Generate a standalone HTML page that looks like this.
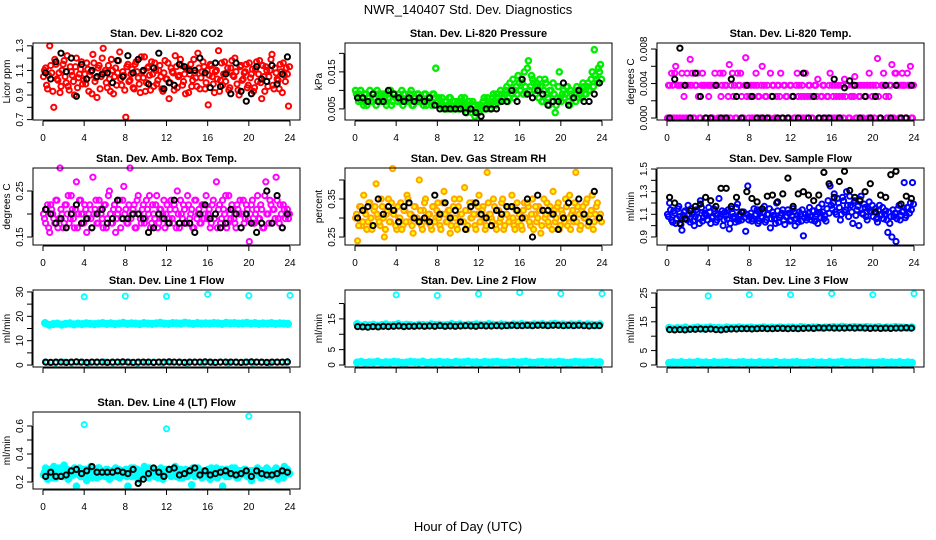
<!DOCTYPE html>
<html><head><meta charset="utf-8"><style>
html,body{margin:0;padding:0;background:#fff;}
svg{display:block;font-family:"Liberation Sans",Arial,sans-serif;}
</style></head><body>
<svg id="chart" width="936" height="540" viewBox="0 0 936 540" xmlns="http://www.w3.org/2000/svg">
<rect x="0" y="0" width="936" height="540" fill="#fff"/>
<text x="468" y="14" text-anchor="middle" font-size="13">NWR_140407  Std. Dev. Diagnostics</text>
<text x="468" y="531" text-anchor="middle" font-size="13">Hour of Day (UTC)</text>
</svg>
<script>
// ---- data ----
const hourTicks = [0,4,8,12,16,20,24];

const co2Red = [1.05,1.12,0.95,1.30,1.08,0.80,1.15,1.02,0.92,1.10,1.18,1.00,0.97,1.13,1.06,0.90,1.20,1.04,1.11,0.99,
1.07,1.16,0.93,1.09,1.23,1.01,0.88,1.14,1.05,1.28,1.10,0.96,1.03,1.19,0.91,1.12,1.08,1.25,0.98,1.06,
0.72,1.15,1.02,1.11,0.95,1.17,1.04,0.92,1.09,1.21,1.00,1.13,0.94,1.07,1.16,0.99,1.10,1.05,0.93,1.18,
1.03,0.87,1.12,1.08,1.22,0.96,1.06,1.14,1.01,0.91,1.11,1.07,0.97,1.19,1.04,1.24,0.95,1.09,1.13,1.00,
0.82,1.15,1.05,0.92,1.10,1.26,1.02,0.98,1.17,1.08,0.94,1.12,1.06,1.20,0.99,0.90,1.14,1.03,1.09,0.96,
1.16,1.07,0.93,1.11,1.01,1.18,0.87,1.05,1.13,0.97,1.10,1.23,0.95,1.08,1.02,1.15,0.92,1.06,1.12,0.81];
const co2RedB = [1.10,0.98,1.06,1.14,0.93,1.19,1.03,1.08,0.97,1.15,1.05,1.22,0.94,1.09,1.01,1.13,0.96,1.07,1.17,1.02,
0.99,1.11,1.06,0.91,1.16,1.04,1.12,0.95,1.20,1.08,1.00,1.14,0.93,1.10,1.05,0.98,1.18,1.03,1.09,0.94,
1.13,1.01,1.07,0.96,1.15,1.09,0.99,1.21,1.04,0.93,1.12,1.06,1.17,0.97,1.10,1.02,1.14,0.95,1.08,1.03,
1.16,1.00,1.09,0.94,1.13,1.05,1.19,0.98,1.07,1.11,0.92,1.15,1.02,1.08,0.97,1.12,1.04,1.17,0.95,1.10,
1.06,1.14,0.99,1.09,1.03,0.93,1.16,1.07,1.01,1.12,0.96,1.18,1.05,1.09,0.94,1.13,1.02,1.08,1.15,0.98,
1.04,1.11,0.96,1.17,1.07,1.00,1.14,0.93,1.10,1.05,1.19,0.98,1.12,1.03,0.95,1.09,1.16,1.01,1.07,1.13];
const co2Black = [1.08,1.03,1.17,1.24,1.09,1.20,0.89,1.15,1.03,1.10,1.05,1.07,1.08,1.00,1.18,1.05,1.22,1.08,1.19,1.10,
0.99,1.12,1.24,0.95,1.00,0.98,1.15,1.13,1.10,1.10,1.20,1.08,0.96,1.16,0.97,1.07,0.91,1.16,0.93,0.85,
0.91,1.13,1.03,1.01,1.14,0.99,1.07,1.21];
const co2Ticks = [0.7,0.8,0.9,1.0,1.1,1.2,1.3];
const co2Labels = ["0.7","","0.9","","1.1","","1.3"];

const presGreen = [.010,.008,.009,.007,.006,.009,.008,.010,.007,.008,.006,.009,.008,.007,.009,.006,.008,.010,.007,.009,
.008,.009,.007,.006,.009,.008,.007,.010,.006,.008,.009,.007,.008,.006,.009,.007,.008,.006,.009,.016,
.007,.006,.008,.005,.007,.006,.008,.005,.007,.006,.005,.007,.006,.008,.004,.006,.005,.007,.003,.005,
.004,.006,.007,.005,.008,.006,.007,.009,.006,.008,.007,.009,.008,.010,.007,.012,.009,.008,.011,.014,
.010,.012,.015,.009,.018,.011,.013,.010,.012,.008,.011,.007,.013,.009,.006,.010,.012,.004,.008,.015,
.007,.010,.009,.011,.006,.009,.008,.007,.010,.009,.008,.011,.009,.012,.010,.015,.021,.013,.016,.017];
const presGreenB = [.009,.007,.010,.008,.009,.006,.008,.007,.009,.008,.010,.007,.009,.008,.007,.009,.008,.006,.009,.008,
.007,.008,.010,.009,.007,.008,.009,.006,.008,.007,.009,.008,.007,.009,.006,.008,.007,.009,.008,.007,
.008,.007,.006,.007,.005,.008,.006,.007,.005,.007,.006,.008,.005,.006,.005,.007,.004,.006,.004,.006,
.006,.005,.008,.006,.007,.005,.008,.007,.009,.007,.010,.008,.009,.011,.008,.010,.013,.010,.009,.012,
.013,.009,.011,.016,.010,.014,.012,.009,.011,.013,.007,.010,.012,.008,.010,.007,.009,.006,.011,.008,
.009,.008,.011,.007,.010,.008,.009,.011,.008,.010,.012,.009,.011,.010,.013,.011,.014,.012,.015,.013];
const presBlack = [.008,.008,.007,.009,.007,.007,.010,.009,.008,.007,.008,.007,.008,.007,.008,.006,.005,.005,.005,.005,
.005,.004,.005,.004,.003,.005,.005,.005,.007,.007,.010,.007,.013,.009,.008,.010,.009,.006,.007,.007,
.012,.006,.008,.010,.007,.007,.009,.012];
const presTicks = [0.005,0.010,0.015,0.020];
const presLabels = ["0.005","","0.015",""];

const tempMag = [0,.0038,.0052,0,.006,.0038,0,.0052,.0025,0,.0038,.0068,.0052,0,.0038,.0025,0,.0052,.0038,0,
.0025,.0038,0,.0052,.0038,0,.0025,.0052,.0038,0,.0062,.0038,.0025,0,.0052,.0038,.0025,0,.007,.0038,
.0025,0,.0038,.0052,.0025,0,.006,.0038,.0025,0,.0052,.0038,0,.0025,.0038,.0052,0,.0038,.0025,0,
.0038,.0025,0,.0052,.0038,.0025,0,.0052,.0025,.0038,0,.0025,.0038,.0045,0,.0025,.0038,0,.0025,.0052,
.0038,0,.0025,.0038,0,.0025,.0045,.0038,0,.0025,.0038,.0048,0,.0025,.0038,0,.0025,.0038,.0052,0,
.0038,.0025,.0069,0,.0038,.0052,.0025,0,.0038,.0062,0,.0052,.0038,0,.0052,.0038,0,.0038,.0060,0];
const tempMagB = [.0038,0,.0038,.0052,0,.0038,.0038,0,.0038,.0052,0,.0038,0,.0038,.0052,0,.0038,.0038,0,.0038,
.0038,0,.0038,.0038,0,.0052,.0038,0,.0038,.0025,0,.0052,.0038,0,.0038,.0052,0,.0038,.0025,0,
.0038,.0025,0,.0038,.0025,.0038,0,.0025,.0038,0,.0025,.0038,0,.0038,.0025,0,.0038,.0025,0,.0038,
.0025,0,.0038,.0025,0,.0038,.0025,0,.0038,.0025,0,.0038,.0025,0,.0025,.0038,0,.0025,.0038,0,
.0025,.0038,0,.0025,.0038,0,.0025,.0038,0,.0025,.0025,0,.0038,.0025,0,.0038,.0025,0,.0038,.0025,
0,.0038,.0025,0,.0038,.0038,0,.0025,.0038,0,.0052,.0038,0,.0038,.0038,0,.0052,.0038,0,.0038];
const tempBlack = [0,.0045,.0081,.0038,0,.0052,.0025,0,0,.0038,0,0,.0045,.0025,0,.0038,.0025,0,0,0,
.0025,0,0,0,.0025,0,.0052,0,.0025,0,0,0,.0045,0,.0035,.0043,.0038,0,.0025,0,
.0025,0,.0038,0,.0038,0,0,.0038];
const tempTicks = [0,0.002,0.004,0.006,0.008];
const tempLabels = ["0.000","","0.004","","0.008"];

const boxMag = [.20,.18,.22,.16,.21,.19,.23,.17,.30,.20,.18,.22,.24,.19,.21,.17,.27,.20,.23,.18,
.22,.16,.20,.19,.28,.21,.18,.23,.20,.17,.22,.19,.25,.18,.21,.16,.20,.23,.19,.26,
.21,.18,.30,.20,.22,.17,.24,.19,.21,.18,.23,.20,.17,.22,.19,.24,.18,.21,.20,.17,
.22,.19,.23,.18,.21,.25,.17,.20,.22,.18,.24,.19,.21,.17,.23,.20,.18,.22,.19,.24,
.20,.17,.22,.19,.27,.21,.18,.23,.20,.17,.24,.19,.21,.18,.22,.20,.17,.23,.19,.21,
.14,.22,.18,.20,.24,.19,.21,.17,.27,.20,.23,.18,.21,.28,.19,.22,.17,.21,.20,.19];
const boxMagB = [.19,.21,.17,.22,.20,.18,.23,.19,.21,.17,.22,.20,.18,.24,.19,.21,.17,.23,.20,.18,
.21,.19,.22,.17,.20,.23,.18,.21,.19,.22,.17,.24,.20,.18,.22,.19,.21,.17,.23,.20,
.18,.22,.19,.21,.17,.23,.20,.18,.22,.19,.21,.24,.18,.20,.22,.17,.21,.19,.23,.20,
.18,.21,.19,.22,.17,.20,.23,.19,.21,.18,.22,.20,.17,.23,.19,.21,.18,.22,.20,.19,
.21,.18,.23,.20,.17,.22,.19,.21,.24,.18,.20,.22,.19,.17,.21,.23,.20,.18,.22,.19,
.20,.23,.18,.21,.19,.22,.17,.24,.20,.18,.22,.21,.19,.23,.18,.20,.22,.19,.21,.20];
const boxBlack = [.21,.20,.18,.19,.17,.20,.22,.18,.19,.17,.20,.21,.18,.19,.23,.19,.19,.20,.20,.19,
.16,.17,.20,.19,.18,.23,.18,.18,.18,.16,.20,.22,.19,.20,.17,.18,.21,.20,.17,.20,
.18,.16,.18,.25,.18,.24,.17,.20];
const boxTicks = [0.15,0.20,0.25];
const boxLabels = ["0.15","","0.25"];

const rhOrange = [.30,.24,.33,.28,.36,.31,.29,.34,.27,.32,.39,.30,.28,.33,.25,.31,.35,.29,.43,.32,
.27,.30,.34,.28,.32,.36,.29,.31,.26,.33,.30,.40,.28,.32,.35,.29,.31,.27,.33,.30,
.34,.28,.31,.37,.29,.32,.26,.30,.35,.28,.33,.31,.29,.38,.27,.32,.30,.34,.28,.31,
.36,.29,.33,.27,.42,.31,.30,.35,.28,.32,.29,.34,.27,.31,.33,.30,.36,.28,.32,.29,
.31,.27,.34,.30,.33,.28,.35,.31,.29,.33,.26,.32,.30,.34,.28,.31,.37,.29,.33,.27,
.32,.30,.35,.28,.36,.31,.29,.42,.33,.27,.32,.30,.34,.28,.31,.36,.29,.33,.30,.31];
const rhOrangeB = [.31,.28,.33,.29,.32,.27,.34,.30,.28,.33,.31,.29,.35,.30,.27,.32,.29,.34,.31,.28,
.33,.30,.27,.32,.29,.35,.31,.28,.33,.30,.29,.32,.27,.34,.30,.31,.28,.33,.29,.32,
.30,.27,.34,.31,.29,.32,.28,.33,.30,.27,.35,.31,.29,.32,.28,.34,.30,.31,.27,.33,
.29,.32,.30,.28,.34,.31,.29,.33,.27,.32,.30,.35,.28,.31,.29,.33,.30,.27,.34,.31,
.28,.32,.30,.34,.29,.31,.27,.33,.30,.32,.28,.35,.31,.29,.33,.27,.32,.30,.34,.28,
.31,.29,.33,.30,.27,.32,.34,.29,.31,.28,.33,.30,.35,.29,.32,.27,.31,.34,.30,.29];
const rhBlack = [.30,.32,.33,.28,.35,.31,.33,.32,.29,.33,.34,.30,.29,.30,.29,.36,.31,.34,.30,.32,
.29,.27,.33,.34,.31,.30,.28,.32,.31,.33,.33,.32,.30,.35,.25,.36,.32,.32,.31,.27,
.30,.34,.30,.35,.31,.29,.37,.30];
const rhTicks = [0.25,0.30,0.35,0.40];
const rhLabels = ["0.25","","0.35",""];

const flowBlue = [1.10,1.20,1.05,1.13,1.02,1.15,1.08,0.96,1.12,1.06,1.18,1.03,1.10,1.00,1.14,1.07,1.22,1.04,1.11,1.09,
1.16,1.02,1.08,1.13,1.05,1.24,1.10,1.00,1.12,1.06,0.97,1.15,1.08,1.03,1.19,1.10,1.05,1.12,0.95,1.35,
1.08,1.04,1.15,1.10,1.02,1.13,1.07,1.17,1.05,1.10,0.98,1.12,1.06,1.20,1.03,1.09,1.14,1.01,1.08,1.11,
1.05,1.15,1.00,1.09,1.12,1.04,0.91,1.10,1.07,1.16,1.05,1.13,1.08,1.02,1.11,1.19,1.06,1.04,1.22,1.35,
1.15,1.28,1.10,1.20,1.05,1.25,1.12,1.30,1.08,1.18,1.02,1.22,1.14,1.00,1.26,1.10,1.16,1.05,1.21,1.12,
1.08,1.15,1.03,1.18,1.10,1.06,1.13,0.94,1.02,0.90,1.08,0.86,1.15,1.05,1.12,1.38,1.09,1.16,1.20,1.38];
const flowBlueB = [1.08,1.14,1.03,1.11,1.06,1.17,1.01,1.09,1.13,1.05,1.10,1.15,1.04,1.08,1.12,1.02,1.16,1.07,1.10,1.05,
1.12,1.07,1.15,1.03,1.10,1.08,1.13,1.05,1.09,1.14,1.02,1.11,1.06,1.16,1.04,1.09,1.12,1.07,1.10,1.05,
1.11,1.06,1.09,1.14,1.04,1.08,1.12,1.03,1.10,1.15,1.06,1.09,1.02,1.13,1.07,1.11,1.05,1.08,1.14,1.04,
1.09,1.12,1.06,1.03,1.10,1.14,1.07,1.05,1.11,1.08,1.13,1.04,1.10,1.16,1.07,1.12,1.09,1.15,1.11,1.18,
1.20,1.12,1.24,1.16,1.10,1.22,1.14,1.18,1.26,1.12,1.20,1.09,1.17,1.23,1.11,1.19,1.08,1.15,1.13,1.18,
1.12,1.06,1.14,1.09,1.16,1.10,1.05,1.12,1.08,1.14,1.11,1.06,1.18,1.09,1.13,1.07,1.16,1.11,1.14,1.19];
const flowBlack = [1.25,1.20,1.02,1.06,1.13,1.17,1.19,1.25,1.22,1.17,1.33,1.33,1.17,1.25,1.12,1.30,1.24,1.21,1.15,1.26,
1.27,1.21,1.28,1.42,1.17,1.28,1.30,1.27,1.22,1.27,1.47,1.37,1.25,1.39,1.48,1.31,1.25,1.22,1.30,1.37,
1.12,1.27,1.25,1.45,1.48,1.19,1.26,1.24];
const flowTicks = [0.9,1.0,1.1,1.2,1.3,1.4,1.5];
const flowLabels = ["0.9","","1.1","","1.3","","1.5"];

const l1CyanHigh = [17.2,16.5,16.8,17.0,16.6,16.9,17.1,16.7,17.0,16.8,17.1,16.9,16.8,17.0,17.2,16.9,17.1,16.8,17.0,17.3,
16.9,17.1,17.0,16.8,17.2,17.0,16.9,17.1,17.3,17.0,16.9,17.2,17.1,17.0,17.4,17.1,16.9,17.2,17.0,17.1,
17.0,17.2,17.1,16.9,17.3,17.1,17.2,17.0,17.1,17.3,17.0,17.2,16.9,17.1,17.0,17.2,16.9,17.1,17.0,16.9];
const l1CyanLow = [1.0,0.8,1.2,0.9,1.1,0.8,1.0,1.2,0.9,1.0,1.1,0.8,1.0,1.2,0.9,1.1,1.0,0.8,1.1,0.9,1.0,1.2,0.9,1.0,1.1,0.8,1.0,0.9,1.1,1.0];
const l1Black = [1.2,1.1,1.2,1.2,1.1,1.2,1.3,1.2,1.1,1.2,1.2,1.2,1.1,1.2,1.2,1.3,1.2,1.1,1.2,1.2,1.2,1.1,1.2,1.2,
1.3,1.2,1.2,1.1,1.2,1.2,1.2,1.3,1.2,1.1,1.2,1.2,1.2,1.2,1.1,1.2,1.3,1.2,1.2,1.1,1.2,1.2,1.2,1.3];
const l1OutHours = [4,8,12,16,20,24];
const l1OutVals = [28.0,28.3,28.2,29.0,28.5,28.6];
const l1Ticks = [0,5,10,15,20,25,30];
const l1Labels = ["0","","10","","20","","30"];

const l2CyanHigh = [13.3,12.8,13.0,12.9,13.1,12.8,13.0,13.2,12.9,13.0,13.3,12.9,13.1,13.0,12.8,13.1,13.0,12.9,13.2,13.0,
13.1,12.9,13.0,13.3,13.0,13.2,12.9,13.1,13.0,13.2,13.1,13.0,13.3,13.1,13.0,13.2,13.1,12.9,13.2,13.1,
13.3,13.1,13.0,13.2,13.1,13.3,13.0,13.2,13.4,13.1,13.2,13.0,13.2,13.1,13.3,13.0,13.2,13.1,13.0,13.2];
const l2CyanLow = [0.8,1.0,0.7,0.9,0.8,1.1,0.7,0.9,0.8,1.0,0.9,0.7,0.8,1.0,0.9,0.8,1.1,0.7,0.9,0.8,1.0,0.8,0.9,0.7,1.0,0.8,0.9,1.1,0.8,0.9,
0.7,1.0,0.8,0.9,1.0,0.8,0.7,0.9,1.0,0.8,0.9,1.1,0.8,0.7,0.9,1.0,0.8,0.9,0.8,1.0,0.9,0.7,0.8,1.0,0.9,0.8,0.9,1.0,0.8,0.9];
const l2Black = [12.5,12.4,12.3,12.5,12.4,12.6,12.5,12.6,12.7,12.5,12.6,12.6,12.7,12.6,12.7,12.6,12.8,12.6,12.7,12.6,
12.7,12.8,12.7,12.6,12.8,12.7,12.7,12.8,12.7,12.8,12.9,12.8,12.8,12.9,12.8,12.9,12.9,12.8,12.9,12.9,
12.8,12.9,12.8,12.9,12.8,12.7,12.8,12.8];
const l2OutHours = [4,8,12,16,20,24];
const l2OutVals = [22.8,22.6,23.1,23.6,23.2,23.2];
const l2Ticks = [0,5,10,15,20];
const l2Labels = ["0","5","","15",""];

const l3CyanHigh = [12.9,12.6,12.8,12.7,13.0,12.6,12.8,13.0,12.7,12.9,13.1,12.8,12.9,12.7,13.0,12.8,12.9,13.1,12.8,12.9,
13.0,12.8,12.9,13.1,12.8,13.0,12.9,13.1,12.9,13.0,13.1,12.9,13.2,13.0,12.9,13.1,13.0,12.9,13.1,13.0,
13.2,13.0,13.3,13.1,13.0,13.2,13.1,13.0,13.2,13.1,13.0,13.2,12.9,13.1,13.0,13.2,13.1,13.0,12.9,13.1];
const l3CyanLow = [0.7,0.9,0.8,1.0,0.7,0.9,0.8,1.1,0.8,0.9,0.7,1.0,0.8,0.9,1.0,0.8,0.7,0.9,1.0,0.8,0.9,0.7,1.0,0.8,0.9,0.8,1.1,0.7,0.9,0.8,
0.9,1.0,0.8,0.7,0.9,1.0,0.8,0.9,0.7,1.0,0.8,0.9,1.1,0.8,0.9,0.7,0.8,1.0,0.9,0.8,0.7,0.9,1.0,0.8,0.9,0.8,1.0,0.7,0.9,0.8];
const l3Black = [12.3,12.2,12.3,12.2,12.4,12.4,12.5,12.4,12.5,12.3,12.2,12.4,12.5,12.5,12.6,12.6,12.5,12.6,12.7,12.6,
12.6,12.7,12.7,12.6,12.7,12.6,12.7,12.8,12.7,12.9,12.8,12.9,12.8,12.8,12.8,12.9,12.8,12.9,12.8,12.7,
12.8,12.7,12.8,12.7,12.8,12.8,12.9,12.8];
const l3OutHours = [4,8,12,16,20,24];
const l3OutVals = [24.0,24.4,24.4,24.8,24.4,24.8];
const l3Ticks = [0,5,10,15,20,25];
const l3Labels = ["0","5","","15","","25"];

const l4Cyan = [.25,.30,.22,.28,.26,.31,.23,.27,.29,.24,.32,.26,.22,.28,.25,.30,.17,.27,.24,.29,
.26,.21,.28,.31,.25,.27,.23,.30,.26,.28,.24,.29,.22,.27,.25,.30,.26,.23,.28,.25,
.29,.17,.27,.24,.30,.26,.22,.28,.25,.31,.27,.23,.29,.26,.24,.28,.25,.30,.22,.27,
.26,.29,.24,.27,.31,.25,.23,.28,.26,.29,.24,.27,.18,.28,.25,.30,.26,.23,.28,.25,
.29,.22,.27,.24,.30,.26,.28,.17,.25,.29,.24,.27,.26,.30,.23,.28,.25,.27,.29,.24,
.26,.21,.28,.25,.30,.26,.23,.28,.25,.29,.24,.27,.26,.30,.22,.28,.25,.31,.27,.26];
const l4CyanB = [.27,.24,.29,.26,.23,.28,.25,.30,.27,.24,.26,.29,.23,.27,.25,.28,.26,.30,.24,.27,
.29,.25,.27,.23,.28,.26,.30,.24,.27,.25,.29,.26,.23,.28,.27,.24,.29,.26,.25,.28,
.24,.27,.30,.25,.26,.29,.23,.27,.28,.24,.26,.30,.25,.27,.29,.23,.28,.26,.24,.29,
.27,.25,.28,.30,.24,.26,.29,.23,.27,.25,.28,.26,.30,.24,.27,.29,.25,.26,.28,.24,
.27,.30,.25,.28,.23,.26,.29,.27,.24,.28,.26,.30,.25,.27,.23,.28,.26,.29,.25,.27,
.28,.24,.26,.29,.27,.23,.28,.25,.30,.26,.24,.27,.29,.25,.28,.26,.23,.27,.29,.26];
const l4Black = [.24,.27,.24,.24,.25,.28,.29,.26,.28,.31,.27,.27,.27,.27,.28,.27,.26,.29,.19,.22,
.26,.30,.27,.24,.29,.30,.25,.26,.28,.30,.25,.28,.25,.26,.27,.28,.26,.25,.26,.28,
.24,.28,.26,.25,.25,.26,.28,.27];
const l4OutHours = [4,12,20];
const l4OutVals = [0.61,0.58,0.67];
const l4Ticks = [0.2,0.3,0.4,0.5,0.6];
const l4Labels = ["0.2","","0.4","","0.6"];

// ---- layout (not data) ----
const NS = "http://www.w3.org/2000/svg";
const svg = document.getElementById('chart');
const colX = [0,312,624];
const rowTop = [43,168,290,412];
const BOXW = 267, BOXH = 77;

function mk(tag, attrs, parent){
  const e = document.createElementNS(NS, tag);
  for (const k in attrs) e.setAttribute(k, attrs[k]);
  (parent||svg).appendChild(e);
  return e;
}

const panels = [
 {row:0,col:0,key:'co2',title:'Stan. Dev. Li-820 CO2',ylab:'Licor ppm',yTop:1.323,yBot:0.697,ticks:co2Ticks,labels:co2Labels,xlabels:true,
  series:[{v:co2Red,c:'#ff0000',f:'none',w:2,o:0.25},{v:co2RedB,c:'#ff0000',f:'none',w:2,o:0.75},{v:co2Black,c:'#000',f:'none',w:2,o:0.5}]},
 {row:0,col:1,key:'pressure',title:'Stan. Dev. Li-820 Pressure',ylab:'kPa',yTop:0.0228,yBot:0.002,ticks:presTicks,labels:presLabels,xlabels:true,
  series:[{v:presGreen,c:'#00ee00',f:'none',w:2.4,o:0.25},{v:presGreenB,c:'#00ee00',f:'none',w:2.4,o:0.75},{v:presBlack,c:'#000',f:'none',w:2,o:0.5}]},
 {row:0,col:2,key:'temp',title:'Stan. Dev. Li-820 Temp.',ylab:'degrees C',yTop:0.0087,yBot:-0.00023,ticks:tempTicks,labels:tempLabels,xlabels:true,
  series:[{v:tempMag,c:'#ff00ff',f:'none',w:2,o:0.25},{v:tempMagB,c:'#ff00ff',f:'none',w:2,o:0.75},{v:tempBlack,c:'#000',f:'none',w:2,o:0.5}]},
 {row:1,col:0,key:'ambbox',title:'Stan. Dev. Amb. Box Temp.',ylab:'degrees C',yTop:0.30,yBot:0.1326,ticks:boxTicks,labels:boxLabels,xlabels:true,
  series:[{v:boxMag,c:'#ff00ff',f:'none',w:2,o:0.25},{v:boxMagB,c:'#ff00ff',f:'none',w:2,o:0.75},{v:boxBlack,c:'#000',f:'none',w:2,o:0.5}]},
 {row:1,col:1,key:'rh',title:'Stan. Dev. Gas Stream RH',ylab:'percent',yTop:0.4316,yBot:0.229,ticks:rhTicks,labels:rhLabels,xlabels:true,
  series:[{v:rhOrange,c:'#ffa500',f:'#ffff00',w:2,o:0.25},{v:rhOrangeB,c:'#ffa500',f:'#ffff00',w:2,o:0.75},{v:rhBlack,c:'#000',f:'none',w:2,o:0.5}]},
 {row:1,col:2,key:'sampleflow',title:'Stan. Dev. Sample Flow',ylab:'ml/min',yTop:1.509,yBot:0.829,ticks:flowTicks,labels:flowLabels,xlabels:true,
  series:[{v:flowBlue,c:'#0000ff',f:'none',w:2,o:0.25},{v:flowBlueB,c:'#0000ff',f:'none',w:2,o:0.75},{v:flowBlack,c:'#000',f:'none',w:2,o:0.5}]},
 {row:2,col:0,key:'line1',title:'Stan. Dev. Line 1 Flow',ylab:'ml/min',yTop:30.8,yBot:-0.8,ticks:l1Ticks,labels:l1Labels,xlabels:false,
  series:[{v:l1CyanHigh,c:'#00ffff',f:'#00ffff',w:3,o:0.5},{v:l1CyanLow,c:'#00ffff',f:'none',w:2,o:0.5},{v:l1Black,c:'#000',f:'none',w:2,o:0.5}],
  out:{h:l1OutHours,v:l1OutVals}},
 {row:2,col:1,key:'line2',title:'Stan. Dev. Line 2 Flow',ylab:'ml/min',yTop:24.4,yBot:-0.65,ticks:l2Ticks,labels:l2Labels,xlabels:false,
  series:[{v:l2CyanHigh,c:'#00ffff',f:'#00ffff',w:3,o:0.5},{v:l2CyanLow,c:'#00ffff',f:'#00ffff',w:3,o:0.5},{v:l2Black,c:'#000',f:'none',w:2,o:0.5}],
  out:{h:l2OutHours,v:l2OutVals}},
 {row:2,col:2,key:'line3',title:'Stan. Dev. Line 3 Flow',ylab:'ml/min',yTop:26.04,yBot:-0.7,ticks:l3Ticks,labels:l3Labels,xlabels:false,
  series:[{v:l3CyanHigh,c:'#00ffff',f:'#00ffff',w:3,o:0.5},{v:l3CyanLow,c:'#00ffff',f:'#00ffff',w:3,o:0.5},{v:l3Black,c:'#000',f:'none',w:2,o:0.5}],
  out:{h:l3OutHours,v:l3OutVals}},
 {row:3,col:0,key:'line4',title:'Stan. Dev. Line 4 (LT) Flow',ylab:'ml/min',yTop:0.70,yBot:0.15,ticks:l4Ticks,labels:l4Labels,xlabels:true,
  series:[{v:l4Cyan,c:'#00ffff',f:'#00ffff',w:2.4,o:0.25},{v:l4CyanB,c:'#00ffff',f:'#00ffff',w:2.4,o:0.75},{v:l4Black,c:'#000',f:'none',w:2,o:0.5}],
  out:{h:l4OutHours,v:l4OutVals}}
];

panels.forEach(p => {
  const L = colX[p.col] + 33, T = rowTop[p.row], R = L + BOXW, B = T + BOXH;
  const xs = h => L + 10 + h * (247/24);
  const ys = v => T + (p.yTop - v) / (p.yTop - p.yBot) * BOXH;
  const g = mk('g', {});
  
  

  const t = mk('text', {x: L + BOXW/2, y: T - 6, 'text-anchor':'middle', 'font-size':'11', 'font-weight':'bold'}, g);
  t.textContent = p.title;
  
  

  const pts = mk('g', {}, g);
  
  
  p.series.forEach(s => {
    const n = s.v.length;
    s.v.forEach((val, i) => {
      const h = (i + s.o) * 24 / n;
      const c = mk('circle', {cx: xs(h).toFixed(1), cy: ys(val).toFixed(1), r: 2.6, fill: s.f, stroke: s.c, 'stroke-width': s.w}, pts);
      
      
    });
  });
  if (p.out) {
    p.out.h.forEach((h, i) => {
      const c = mk('circle', {cx: xs(h).toFixed(1), cy: ys(p.out.v[i]).toFixed(1), r: 2.6, fill: 'none', stroke: '#00ffff', 'stroke-width': 1.8}, pts);
      
      
    });
  }

  const bx = mk('rect', {x: L, y: T, width: BOXW, height: BOXH, fill: 'none', stroke: '#000', 'stroke-width': 1}, g);
  
  

  const xa = mk('g', {}, g);
  
  
  mk('line', {x1: xs(0), x2: xs(24), y1: B + 1, y2: B + 1, stroke: '#000'}, xa);
  hourTicks.forEach(h => {
    mk('line', {x1: xs(h), x2: xs(h), y1: B + 1, y2: B + 6, stroke: '#000'}, xa);
    if (p.xlabels) {
      const tl = mk('text', {x: xs(h), y: B + 21, 'text-anchor':'middle', 'font-size':'10'}, xa);
      tl.textContent = h;
      
      
    }
  });

  const ya = mk('g', {}, g);
  
  
  const tk = p.ticks;
  mk('line', {x1: L - 1, x2: L - 1, y1: ys(tk[0]), y2: ys(tk[tk.length-1]), stroke: '#000'}, ya);
  tk.forEach((v, i) => {
    const y = ys(v);
    mk('line', {x1: L - 6, x2: L - 1, y1: y, y2: y, stroke: '#000'}, ya);
    if (p.labels[i]) {
      const tl = mk('text', {x: 0, y: 0, 'text-anchor':'middle', 'font-size':'10', transform: `translate(${L-10},${y}) rotate(-90)`}, ya);
      tl.textContent = p.labels[i];
      
      
    }
  });
  const yl = mk('text', {x: 0, y: 0, 'text-anchor':'middle', 'font-size':'10', transform: `translate(${L-23},${T + BOXH/2}) rotate(-90)`}, ya);
  yl.textContent = p.ylab;
  
  
});
</script>
</body></html>
